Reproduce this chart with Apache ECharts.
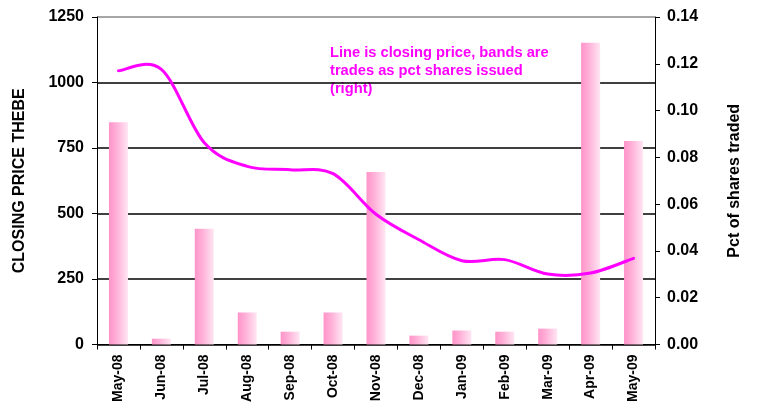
<!DOCTYPE html>
<html>
<head>
<meta charset="utf-8">
<script src="https://cdn.jsdelivr.net/npm/echarts@6/dist/echarts.min.js"></script>
<style>
  html, body { margin: 0; padding: 0; background: #fff; }
  #main { width: 758px; height: 405px; }
</style>
</head>
<body>
<div id="main"></div>
<script>
  // months
  const months = ['May-08', 'Jun-08', 'Jul-08', 'Aug-08', 'Sep-08', 'Oct-08', 'Nov-08',
                  'Dec-08', 'Jan-09', 'Feb-09', 'Mar-09', 'Apr-09', 'May-09']
  // closing price, thebe (left axis)
  const closingPrice = [1045, 1050, 770, 680, 667, 652, 497, 400, 320, 324, 269, 273, 329]
  // trades as pct of shares issued (right axis)
  const pctTraded = [0.095, 0.0025, 0.0495, 0.0137, 0.0055, 0.0137, 0.0738,
                     0.0038, 0.006, 0.0055, 0.0068, 0.129, 0.087]
  const noteText = 'Line is closing price, bands are\ntrades as pct shares issued\n(right)'

  const font = 'Liberation Sans, Arial, sans-serif'

  // excel style smoothed line (catmull-rom through the points)
  function renderSmoothLine(params, api) {
    if (params.dataIndex !== 0) return null
    const pts = closingPrice.map((v, i) => api.coord([i, v]))
    let d = 'M' + pts[0][0] + ',' + pts[0][1]
    for (let i = 0; i < pts.length - 1; i++) {
      const p0 = pts[Math.max(i - 1, 0)]
      const p1 = pts[i]
      const p2 = pts[i + 1]
      const p3 = pts[Math.min(i + 2, pts.length - 1)]
      const c1x = p1[0] + (p2[0] - p0[0]) / 6
      const c1y = p1[1] + (p2[1] - p0[1]) / 6
      const c2x = p2[0] - (p3[0] - p1[0]) / 6
      const c2y = p2[1] - (p3[1] - p1[1]) / 6
      d += ' C' + c1x + ',' + c1y + ' ' + c2x + ',' + c2y + ' ' + p2[0] + ',' + p2[1]
    }
    return {
      type: 'path',
      shape: { pathData: d },
      style: { stroke: '#FF00FF', lineWidth: 3, fill: null, lineCap: 'round' }
    }
  }

  let myechart = echarts.init(document.getElementById('main'))
  let option = {
    backgroundColor: '#fff',
    animation: false,
    grid: { left: 97, right: 103, top: 17, bottom: 60 },
    graphic: [{
      type: 'text',
      left: 330,
      top: 44,
      style: {
        text: noteText,
        fill: '#FF00FF',
        font: 'bold 14.7px ' + font,
        lineHeight: 18
      }
    }],
    xAxis: {
      type: 'category',
      data: months,
      boundaryGap: true,
      axisLine: { lineStyle: { color: '#000', width: 1 } },
      axisTick: { show: true, length: 5, alignWithLabel: false, lineStyle: { color: '#000' } },
      axisLabel: {
        interval: 0,
        rotate: 90,
        color: '#000',
        fontFamily: font,
        fontWeight: 'bold',
        fontSize: 14,
        margin: 10
      }
    },
    yAxis: [
      {
        type: 'value',
        min: 0, max: 1250, interval: 250,
        name: 'CLOSING PRICE THEBE',
        nameLocation: 'middle',
        nameGap: 69,
        nameTextStyle: { color: '#000', fontFamily: font, fontWeight: 'bold', fontSize: 16 },
        axisLine: { show: true, lineStyle: { color: '#000' } },
        axisTick: { show: true, length: 5, lineStyle: { color: '#000' } },
        axisLabel: {
          color: '#000', fontFamily: font, fontWeight: 'bold', fontSize: 16, margin: 13,
          formatter: v => String(v)
        },
        splitLine: {
          show: true,
          lineStyle: { color: ['#000', '#000', '#000', '#000', '#000', '#888'], width: 1.5 }
        }
      },
      {
        type: 'value',
        min: 0, max: 0.14, interval: 0.02,
        name: 'Pct of shares traded',
        nameLocation: 'middle',
        nameGap: 72,
        nameTextStyle: { color: '#000', fontFamily: font, fontWeight: 'bold', fontSize: 16 },
        axisLine: { show: true, lineStyle: { color: '#000' } },
        axisTick: { show: true, length: 5, lineStyle: { color: '#000' } },
        axisLabel: {
          color: '#000', fontFamily: font, fontWeight: 'bold', fontSize: 16, margin: 12,
          formatter: v => v.toFixed(2)
        },
        splitLine: { show: false }
      }
    ],
    series: [
      {
        name: 'Pct traded',
        type: 'bar',
        yAxisIndex: 1,
        data: pctTraded,
        barWidth: 19,
        itemStyle: {
          color: new echarts.graphic.LinearGradient(0, 0, 1, 0, [
            { offset: 0, color: '#FF94C9' },
            { offset: 0.4, color: '#FFB0D8' },
            { offset: 1, color: '#FFE6F3' }
          ])
        }
      },
      {
        name: 'Closing price',
        type: 'custom',
        yAxisIndex: 0,
        data: closingPrice.map((v, i) => [i, v]),
        encode: { x: 0, y: 1 },
        renderItem: renderSmoothLine,
        z: 5
      }
    ]
  }
  myechart.setOption(option)
</script>
</body>
</html>
